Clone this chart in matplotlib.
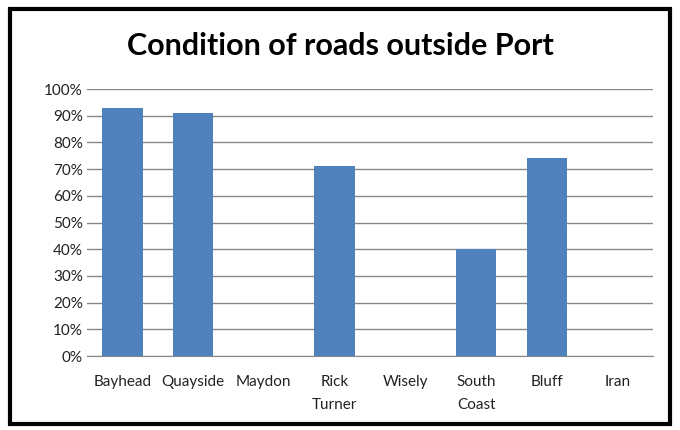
import matplotlib.pyplot as plt
import matplotlib.patches as patches
from matplotlib.ticker import PercentFormatter
import numpy as np

# data
roads = ["Bayhead", "Quayside", "Maydon", "Rick\nTurner", "Wisely",
         "South\nCoast", "Bluff", "Iran"]
good_pct = [93, 91, 0, 71, 0, 40, 74, 0]
y_ticks = list(range(0, 101, 10))

plt.rcParams['font.family'] = ['Lato', 'DejaVu Sans']

fig = plt.figure(figsize=(6.8, 4.3), dpi=100)
ax = fig.add_axes([0.128, 0.172, 0.832, 0.621])

x = np.arange(len(roads))
ax.bar(x, good_pct, width=0.57, color="#4F81BD", zorder=3)

ax.set_xlim(-0.5, len(roads) - 0.5)
ax.set_ylim(0, 100)
ax.set_yticks(y_ticks)
ax.yaxis.set_major_formatter(PercentFormatter(decimals=0))
ax.set_xticks(x)
ax.set_xticklabels(roads, fontsize=11, color="#222222", linespacing=1.75)
ax.tick_params(axis='y', labelsize=11, labelcolor="#222222", length=0, pad=3)
ax.tick_params(axis='x', length=0, pad=14)
ax.grid(axis='y', color="#878787", linewidth=1, zorder=0)
for s in ['top', 'right', 'left']:
    ax.spines[s].set_visible(False)
ax.spines['bottom'].set_color("#878787")

fig.text(0.5, 0.893, "Condition of roads outside Port", ha='center', va='center',
         fontsize=22, fontweight='bold')

# outer border
fig.patches.append(patches.Rectangle((0.015, 0.015), 0.97, 0.965, transform=fig.transFigure,
                                     fill=False, edgecolor="black", linewidth=3))

fig.savefig("out.png", dpi=100)
